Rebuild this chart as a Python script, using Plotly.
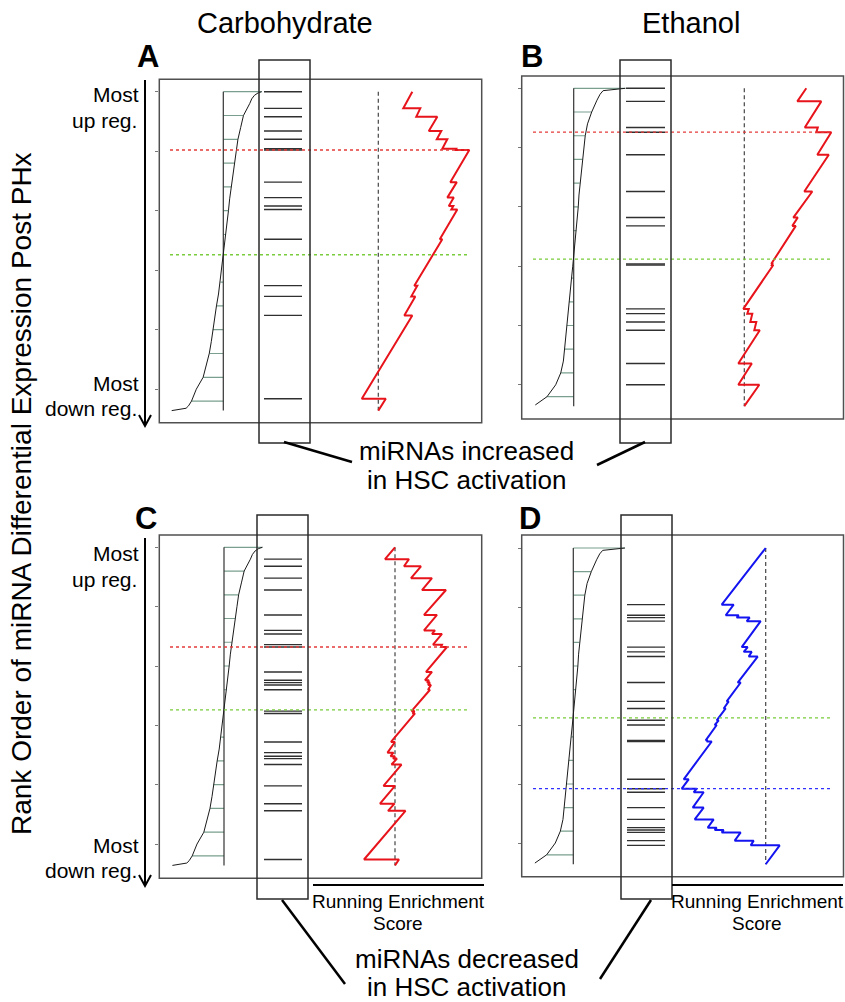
import plotly.graph_objects as go

W, H = 845, 1002

# ---------------- data ----------------
# Ranked log2 fold change curves (rank 0 = most up regulated)
carb_rank = [0, 1, 3, 6, 10, 20, 30, 40, 50, 60, 70, 80, 90, 100, 110, 120, 130, 140,
             150, 160, 170, 180, 190, 200, 210, 220, 230, 240, 250, 260, 264, 266, 268]
carb_fc = [3.2, 2.9, 2.6, 2.37, 2.2, 1.68, 1.45, 1.22, 1.08, 0.93, 0.78, 0.66, 0.53, 0.43,
           0.32, 0.21, 0.09, -0.02, -0.12, -0.23, -0.4, -0.57, -0.7, -0.87, -1.0, -1.17,
           -1.4, -1.68, -2.25, -2.65, -2.9, -3.1, -4.3]

etoh_rank = [0, 1, 2, 5, 10, 20, 30, 40, 50, 60, 70, 80, 90, 100, 110, 120, 130, 140,
             150, 160, 170, 180, 190, 200, 210, 220, 230, 240, 250, 260, 264, 267]
etoh_fc = [4.3, 3.3, 2.45, 2.2, 1.94, 1.5, 1.15, 0.96, 0.85, 0.72, 0.6, 0.5, 0.44, 0.38,
           0.3, 0.22, 0.13, 0.03, -0.08, -0.18, -0.28, -0.38, -0.47, -0.56, -0.65, -0.76,
           -0.86, -1.08, -1.5, -2.22, -2.78, -3.2]

zero_cross_carb = 137
zero_cross_etoh = 144
ladder_step = 20
n_rank = 268

# Hit positions (ranks) of the miRNA sets
hits_A = [0, 14, 21, 33, 40, 48, 49, 76, 89, 96, 99, 124, 163, 172, 188, 258]
hits_B = [0, 11, 33, 37, 56, 87, 109, 116, 148, 149, 186, 190, 197, 204, 232, 250]
hits_C = [10, 16, 26, 36, 57, 70, 73, 82, 84, 105, 112, 114, 116, 120, 138, 140, 164,
          173, 176, 178, 183, 201, 216, 222, 263]
hits_D = [48, 57, 59, 62, 84, 88, 92, 114, 130, 136, 146, 150, 163, 164, 196, 204, 207,
          220, 230, 237, 239, 241, 248, 252]

# Running enrichment score vertices (rank, score)
es_rank_A = [0, 14, 14, 21, 21, 33, 33, 40, 40, 48, 48, 49, 49, 76, 76, 89, 89, 96, 96,
             99, 99, 124, 124, 163, 163, 172, 172, 188, 188, 258, 258, 268]
es_val_A = [0.34, 0.25, 0.42, 0.38, 0.59, 0.505, 0.63, 0.585, 0.69, 0.64, 0.78, 0.775,
            0.91, 0.72, 0.785, 0.69, 0.755, 0.705, 0.75, 0.73, 0.79, 0.615, 0.64, 0.36,
            0.39, 0.33, 0.37, 0.26, 0.34, -0.165, 0.075, 0.0]

es_rank_B = [0, 11, 11, 33, 33, 37, 37, 56, 56, 87, 87, 109, 109, 116, 116, 148, 148,
             149, 149, 186, 186, 190, 190, 197, 197, 204, 204, 232, 232, 250, 250, 268]
es_val_B = [0.62, 0.53, 0.77, 0.605, 0.735, 0.72, 0.87, 0.73, 0.845, 0.60, 0.68, 0.49,
            0.535, 0.48, 0.515, 0.27, 0.28, 0.275, 0.29, -0.01, 0.045, 0.03, 0.08, 0.06,
            0.12, 0.10, 0.155, -0.06, 0.075, -0.06, 0.15, 0.0]

es_rank_C = [0, 10, 10, 16, 16, 26, 26, 36, 36, 57, 57, 70, 70, 73, 73, 82, 82, 84, 84,
             105, 105, 112, 112, 114, 114, 116, 116, 120, 120, 138, 138, 140, 140, 164,
             164, 173, 173, 176, 176, 178, 178, 183, 183, 201, 201, 216, 216, 222, 222,
             263, 263, 268]
es_val_C = [0, -0.10, 0.14, 0.09, 0.26, 0.16, 0.37, 0.27, 0.51, 0.29, 0.42, 0.29, 0.40,
            0.37, 0.47, 0.38, 0.47, 0.46, 0.52, 0.31, 0.37, 0.30, 0.34, 0.32, 0.35, 0.33,
            0.36, 0.33, 0.35, 0.165, 0.195, 0.175, 0.20, -0.04, 0.0, -0.075, -0.015,
            -0.045, 0.0, -0.02, 0.02, -0.035, 0.065, -0.115, 0.0, -0.15, -0.005, -0.07,
            0.105, -0.31, 0.04, 0.0]

es_rank_D = [0, 48, 48, 57, 57, 59, 59, 62, 62, 84, 84, 88, 88, 92, 92, 114, 114, 130,
             130, 136, 136, 146, 146, 150, 150, 163, 163, 164, 164, 196, 196, 204, 204,
             207, 207, 220, 220, 230, 230, 237, 237, 239, 239, 241, 241, 248, 248, 252,
             252, 268]
es_val_D = [0, -0.44, -0.32, -0.40, -0.27, -0.29, -0.16, -0.19, -0.05, -0.24, -0.18,
            -0.22, -0.14, -0.17, -0.08, -0.28, -0.25, -0.39, -0.37, -0.42, -0.40, -0.49,
            -0.47, -0.51, -0.49, -0.60, -0.58, -0.59, -0.54, -0.82, -0.77, -0.84, -0.69,
            -0.72, -0.62, -0.73, -0.62, -0.71, -0.52, -0.58, -0.49, -0.51, -0.42, -0.44,
            -0.25, -0.31, -0.12, -0.15, 0.14, 0.0]

column_titles = ["Carbohydrate", "Ethanol"]
panel_letters = ["A", "B", "C", "D"]

# ---------------- layout geometry (pixels) ----------------
def PX(x):
    return x / W


def PY(y):
    return 1 - y / H


FC_PX = 12.0    # pixels per log2 FC unit
ES_PX = 100.0   # pixels per ES unit

panels = [
    dict(letter="A", box=(159.3, 79.3, 481.7, 422.7), r0=91.7, rpx=1.19, fc0=223.3, es0=378.3,
         rank=carb_rank, fc=carb_fc, zc=zero_cross_carb, hits=hits_A, esr=es_rank_A,
         esv=es_val_A, color="#e8141c", mark="#e53b3b", hitx=(264, 302),
         rect=(259, 60, 310, 443), dot=(170, 469), extreme="max"),
    dict(letter="B", box=(521.7, 76.0, 843.5, 419.0), r0=88.3, rpx=1.186, fc0=573.7, es0=744.3,
         rank=etoh_rank, fc=etoh_fc, zc=zero_cross_etoh, hits=hits_B, esr=es_rank_B,
         esv=es_val_B, color="#e8141c", mark="#e53b3b", hitx=(626, 665),
         rect=(620, 60, 671, 443), dot=(533, 830), extreme="max"),
    dict(letter="C", box=(159.3, 535.0, 481.7, 878.3), r0=547.3, rpx=1.187, fc0=224.0, es0=395.0,
         rank=carb_rank, fc=carb_fc, zc=zero_cross_carb, hits=hits_C, esr=es_rank_C,
         esv=es_val_C, color="#e8141c", mark="#e53b3b", hitx=(264, 302),
         rect=(257, 515, 308, 899), dot=(170, 468), extreme="max"),
    dict(letter="D", box=(521.7, 535.0, 843.5, 876.7), r0=548.0, rpx=1.18, fc0=573.3, es0=765.7,
         rank=etoh_rank, fc=etoh_fc, zc=zero_cross_etoh, hits=hits_D, esr=es_rank_D,
         esv=es_val_D, color="#1414f0", mark="#3030ff", hitx=(627, 665),
         rect=(621, 515, 672, 899), dot=(533, 832), extreme="min"),
]

fig = go.Figure()
shapes = []
layout_axes = {}
FONT = "Liberation Sans, Arial, sans-serif"

for i, p in enumerate(panels, start=1):
    bx0, by0, bx1, by1 = p["box"]
    xa = "x" if i == 1 else f"x{i}"
    ya = "y" if i == 1 else f"y{i}"
    xa2 = f"x{i + 4}"
    # axis ranges
    y_top = (by0 - p["r0"]) / p["rpx"]
    y_bot = (by1 - p["r0"]) / p["rpx"]
    fc_rng = [(bx0 - p["fc0"]) / FC_PX, (bx1 - p["fc0"]) / FC_PX]
    es_rng = [(bx0 - p["es0"]) / ES_PX, (bx1 - p["es0"]) / ES_PX]
    dom_x = [PX(bx0), PX(bx1)]
    dom_y = [PY(by1), PY(by0)]
    layout_axes["xaxis" if i == 1 else f"xaxis{i}"] = dict(
        domain=dom_x, range=fc_rng, anchor=ya, visible=False, fixedrange=True)
    layout_axes[f"xaxis{i + 4}"] = dict(
        domain=dom_x, range=es_rng, anchor=ya, overlaying=xa, visible=False, fixedrange=True)
    layout_axes["yaxis" if i == 1 else f"yaxis{i}"] = dict(
        domain=dom_y, range=[y_bot, y_top], anchor=xa, showgrid=False, zeroline=False,
        showline=False, ticks="outside", ticklen=3, tickwidth=1, tickcolor="#777",
        tickvals=[0, 50, 100, 150, 200, 250], showticklabels=False, fixedrange=True)

    # green ladder (every ladder_step ranks)
    lx, ly = [], []
    for r, v in zip(p["rank"], p["fc"]):
        if r % ladder_step == 0 and r < n_rank:
            lx += [0, v, None]
            ly += [r, r, None]
    fig.add_trace(go.Scatter(x=lx, y=ly, xaxis=xa, yaxis=ya, mode="lines",
                             line=dict(color="#7a9f8e", width=1.2), hoverinfo="skip"))
    # ladder spine
    fig.add_trace(go.Scatter(x=[0, 0], y=[0, n_rank], xaxis=xa, yaxis=ya, mode="lines",
                             line=dict(color="#333333", width=1.2), hoverinfo="skip"))
    # ranked fold-change curve
    fig.add_trace(go.Scatter(x=p["fc"], y=p["rank"], xaxis=xa, yaxis=ya, mode="lines",
                             line=dict(color="#1a1a1a", width=1), hoverinfo="skip"))
    # zero line for ES
    fig.add_trace(go.Scatter(x=[0, 0], y=[0, n_rank], xaxis=xa2, yaxis=ya, mode="lines",
                             line=dict(color="#444444", width=1.2, dash="4px,3px"),
                             hoverinfo="skip"))
    # running enrichment score
    fig.add_trace(go.Scatter(x=p["esv"], y=p["esr"], xaxis=xa2, yaxis=ya, mode="lines",
                             line=dict(color=p["color"], width=2), hoverinfo="skip"))

    # hits
    for h in p["hits"]:
        shapes.append(dict(type="line", xref="paper", yref=ya, x0=PX(p["hitx"][0]),
                           x1=PX(p["hitx"][1]), y0=h, y1=h,
                           line=dict(color="#303030", width=1.4)))
    # dotted markers: ES extreme and FC zero crossing
    if p["extreme"] == "max":
        ext_rank = p["esr"][p["esv"].index(max(p["esv"]))]
    else:
        ext_rank = p["esr"][p["esv"].index(min(p["esv"]))]
    for r, c in [(ext_rank, p["mark"]), (p["zc"], "#79cc3c")]:
        shapes.append(dict(type="line", xref="paper", yref=ya, x0=PX(p["dot"][0]),
                           x1=PX(p["dot"][1]), y0=r, y1=r,
                           line=dict(color=c, width=1.3, dash="dot")))
    # panel box
    shapes.append(dict(type="rect", xref="paper", yref="paper", x0=PX(bx0), x1=PX(bx1),
                       y0=PY(by1), y1=PY(by0), line=dict(color="#505050", width=1.5)))
    # tall highlight rectangle
    rx0, ry0, rx1, ry1 = p["rect"]
    shapes.append(dict(type="rect", xref="paper", yref="paper", x0=PX(rx0), x1=PX(rx1),
                       y0=PY(ry1), y1=PY(ry0), line=dict(color="#2a2a2a", width=1.5)))


def seg(x0, y0, x1, y1, w=2.5, c="black"):
    shapes.append(dict(type="line", xref="paper", yref="paper", x0=PX(x0), y0=PY(y0),
                       x1=PX(x1), y1=PY(y1), line=dict(color=c, width=w)))


# connectors to the captions
seg(284, 442, 352, 462)
seg(645, 442, 597, 465)
seg(282, 900, 345, 984)
seg(651, 900, 600, 979)
# underline of "Running Enrichment Score"
seg(313, 885, 484, 885, 2)
seg(672, 885, 843, 885, 2)
# rank arrows
for (ya0, ya1) in [(80, 426), (538, 886)]:
    seg(145, ya0, 145, ya1, 2)
    shapes.append(dict(type="path", xref="paper", yref="paper",
                       path=f"M {PX(139)},{PY(ya1 - 11)} L {PX(145)},{PY(ya1)} L {PX(151)},{PY(ya1 - 11)}",
                       line=dict(color="black", width=2)))

ann = []


def txt(x, y, s, size, bold=False, xanchor="center", align="center", angle=0):
    ann.append(dict(x=PX(x), y=PY(y), xref="paper", yref="paper", text=f"<b>{s}</b>" if bold else s,
                    showarrow=False, xanchor=xanchor, yanchor="middle", align=align,
                    textangle=angle, font=dict(family=FONT, size=size, color="black")))


txt(285, 23, column_titles[0], 29)
txt(691, 23, column_titles[1], 29)
for p, (x, y) in zip(panels, [(148, 56), (532, 56), (146, 518), (530, 518)]):
    txt(x, y, p["letter"], 31, bold=True)
txt(22, 494, "Rank Order of miRNA Differential Expression Post PHx", 28, angle=-90)
for y in [94, 553]:
    txt(141, y, "Most", 21, xanchor="right")
    txt(139, y + 26, "up reg.", 21, xanchor="right")
for y in [383, 845]:
    txt(141, y, "Most", 21, xanchor="right")
    txt(139, y + 25, "down reg.", 21, xanchor="right")
txt(467, 451, "miRNAs increased", 26)
txt(467, 480, "in HSC activation", 26)
txt(467, 959, "miRNAs decreased", 26)
txt(467, 987, "in HSC activation", 26)
for cx in [398, 757]:
    txt(cx, 901, "Running Enrichment", 19)
    txt(cx, 923, "Score", 19)

fig.update_layout(width=W, height=H, autosize=False, margin=dict(l=0, r=0, t=0, b=0),
                  paper_bgcolor="white", plot_bgcolor="rgba(0,0,0,0)", showlegend=False,
                  shapes=shapes, annotations=ann, **layout_axes)

fig.write_html("out.html", config={"displayModeBar": False},
               post_script="document.body.style.margin='0';document.body.style.overflow='hidden';")
